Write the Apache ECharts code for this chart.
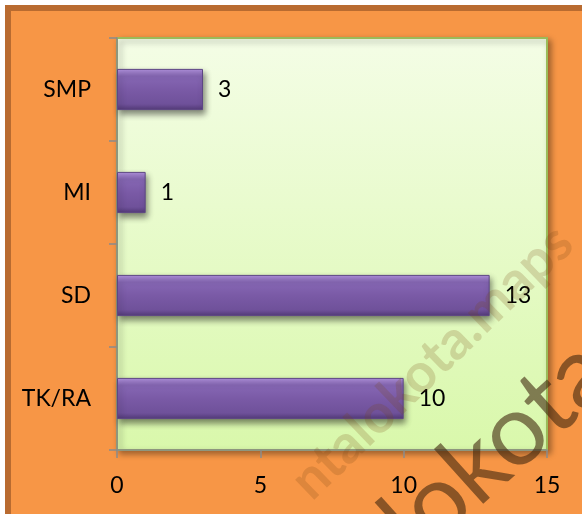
<!DOCTYPE html>
<html><head><meta charset="utf-8">
<script src="https://cdn.jsdelivr.net/npm/echarts@6/dist/echarts.min.js"></script>
<style>html,body{margin:0;padding:0;background:#fff}#c{width:582px;height:514px}</style>
</head><body><div id="c"></div>
<script>
const categories = ['TK/RA', 'SD', 'MI', 'SMP'];
const values = [10, 13, 1, 3];
const xTicks = [0, 5, 10, 15];

const chart = echarts.init(document.getElementById('c'), null, {renderer: 'canvas'});
const font = 'Lato, "Open Sans", sans-serif';
chart.setOption({
  animation: false,
  backgroundColor: '#ffffff',
  graphic: [
    {type: 'rect', z: -10, silent: true, shape: {x: 8, y: 8, width: 620, height: 560},
     style: {fill: '#f79646', stroke: '#b96b30', lineWidth: 6}},
    {type: 'text', z: 100, silent: true, x: 432, y: 362, rotation: Math.PI * 44 / 180,
     style: {text: 'ntalokota.maps', font: 'bold 54px Lato, sans-serif', fill: 'rgba(120,70,20,0.2)', align: 'center', verticalAlign: 'middle'}},
    {type: 'text', z: 100, silent: true, x: 497, y: 448, rotation: Math.PI * 42 / 180,
     style: {text: 'lokota', font: '100px Lato, sans-serif', fill: 'rgba(65,40,15,0.6)', align: 'center', verticalAlign: 'middle'}}
  ],
  grid: {left: 117, top: 38, width: 430, height: 412, show: true,
    borderColor: '#9bbb59', borderWidth: 2,
    shadowColor: 'rgba(0,0,0,0.35)', shadowBlur: 6, shadowOffsetX: 3, shadowOffsetY: 3,
    backgroundColor: {type: 'linear', x: 0, y: 0, x2: 0, y2: 1,
      colorStops: [{offset: 0, color: '#f4fde6'}, {offset: 1, color: '#d9f8ab'}]}},
  xAxis: {type: 'value', min: 0, max: 15, interval: 5,
    axisLine: {show: true, lineStyle: {color: '#8a8a8a', width: 1.5}},
    axisTick: {show: true, length: 8, lineStyle: {color: '#8a8a8a', width: 1.5}},
    splitLine: {show: false},
    axisLabel: {margin: 24, fontSize: 23, fontFamily: font, color: '#000',
      formatter: v => xTicks.includes(v) ? String(v) : ''}},
  yAxis: {type: 'category', data: categories,
    axisLine: {show: true, lineStyle: {color: '#8a8a8a', width: 1.5}},
    axisTick: {show: true, length: 8, lineStyle: {color: '#8a8a8a', width: 1.5}},
    axisLabel: {margin: 26, fontSize: 23, fontFamily: font, color: '#000'}},
  series: [{type: 'bar', data: values, barWidth: '40%',
    itemStyle: {
      color: {type: 'linear', x: 0, y: 0, x2: 0, y2: 1, colorStops: [
        {offset: 0, color: '#b394e0'}, {offset: 0.18, color: '#8667b4'},
        {offset: 0.5, color: '#7a5aa6'}, {offset: 0.85, color: '#6f519a'}, {offset: 1, color: '#533a78'}]},
      borderColor: '#5d4684', borderWidth: 1,
      shadowColor: 'rgba(0,0,0,0.45)', shadowBlur: 6, shadowOffsetX: 2, shadowOffsetY: 4},
    label: {show: true, position: 'right', distance: 15, fontSize: 23, fontFamily: font, color: '#000'}}]
});
</script></body></html>
